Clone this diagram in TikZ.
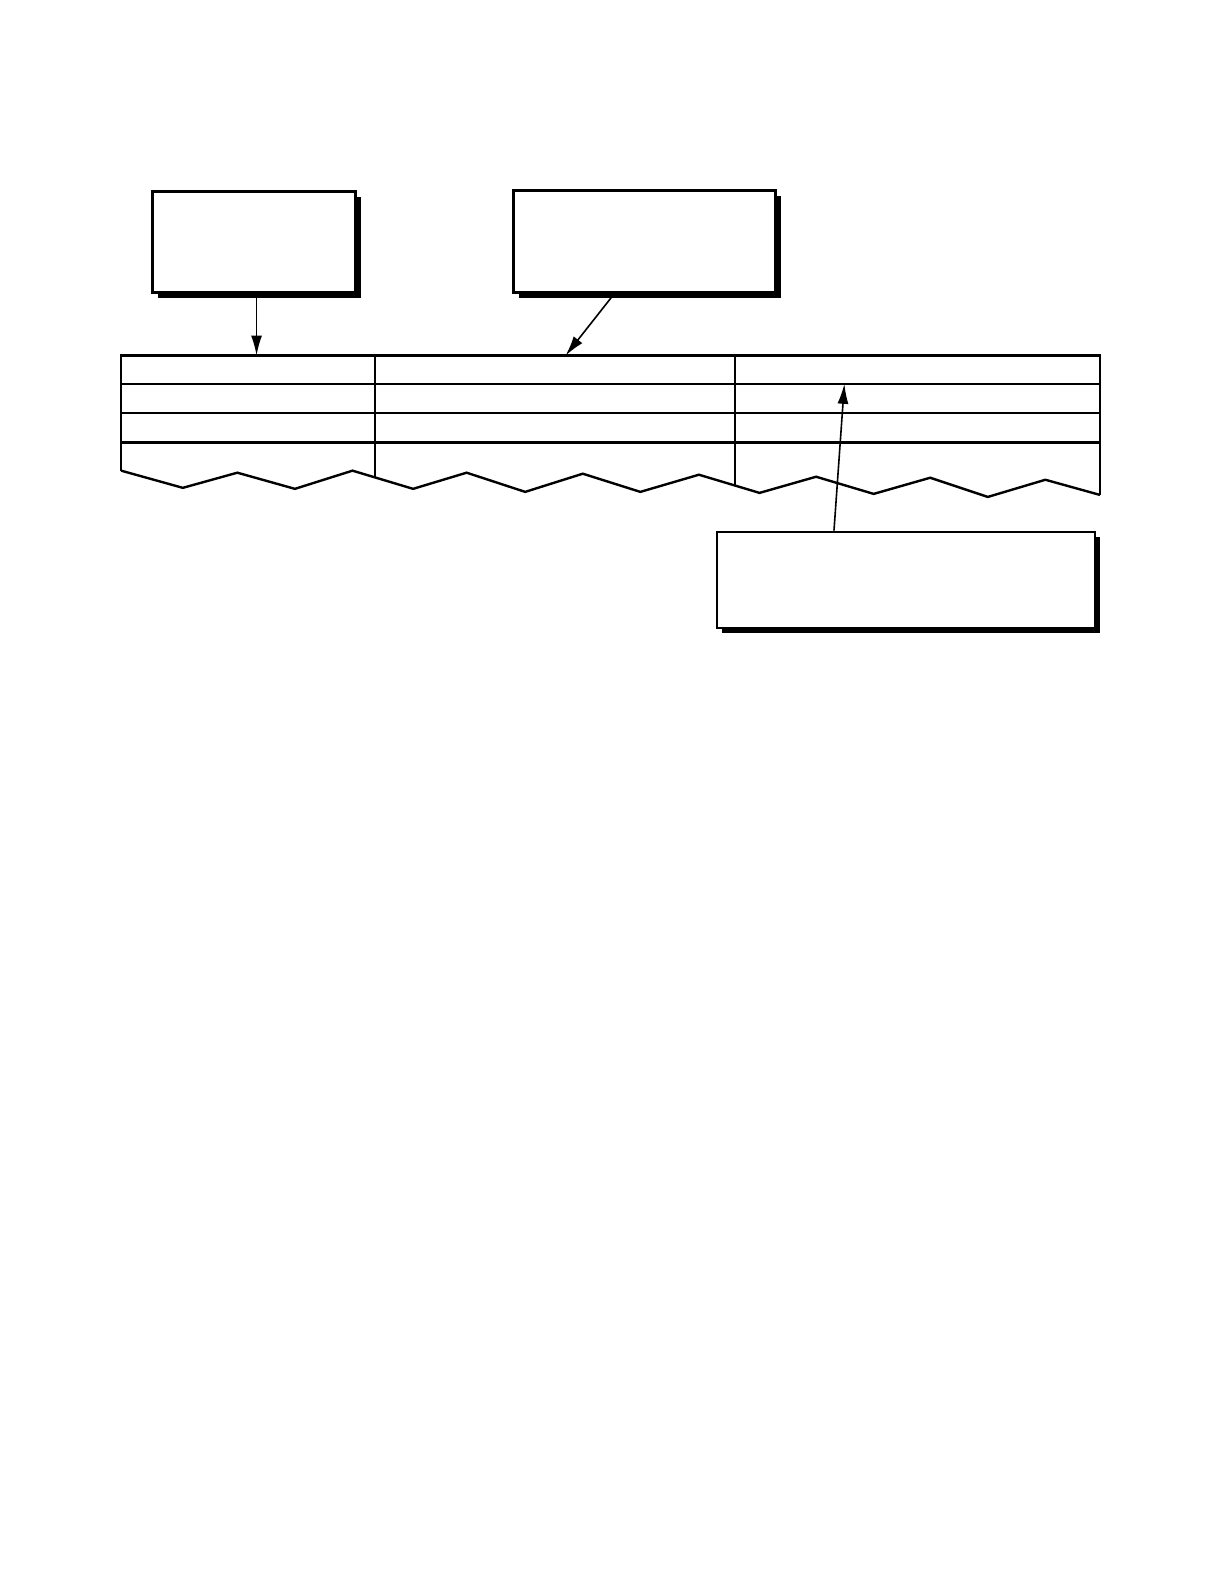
\documentclass[tikz,border=0pt]{standalone}
\usetikzlibrary{arrows.meta,shadows}

\begin{document}
\begin{tikzpicture}[x=0.505pt,y=-0.505pt,line width=1.2pt,
  callout/.style={draw,fill=white,inner sep=0pt,
    drop shadow={shadow xshift=2.6pt,shadow yshift=-2.6pt,fill=black,opacity=1}},
  pointer/.style={line width=0.8pt,-{Latex[length=10pt,width=5.5pt]}}]
\useasboundingbox (0,0) rectangle (1211.9,1568.3);
\node[callout,minimum width=101.5pt,minimum height=50.5pt] (name) at (251.5,239.5) {};
\node[callout,minimum width=131pt,minimum height=51pt] (header) at (638,239) {};
\node[callout,minimum width=189pt,minimum height=48pt] (entry) at (897,574) {};
\draw (120,466) -- (120,352) -- (1089,352) -- (1089,490);
\draw (120,380) -- (1089,380);
\draw (120,409) -- (1089,409);
\draw (120,438) -- (1089,438);
\draw (371,352) -- (371,472);
\draw (728,352) -- (728,480);
\draw (120,466) -- (181,483) -- (235,468) -- (292,484) -- (349,466) -- (409,484)
  -- (462,468) -- (520,487) -- (577,469) -- (634,487) -- (692,470) -- (752,488)
  -- (808,472) -- (865,489) -- (921,473) -- (978,492) -- (1035,475) -- (1089,490);
\coordinate (c1) at (254,352);
\coordinate (c2) at (560,352);
\coordinate (c3) at (836,380);
\draw[pointer] (c1 |- name.south) -- (c1);
\draw[pointer] ([xshift=-15pt]header.south) -- (c2);
\draw[pointer] ([xshift=-36pt]entry.north) -- (c3);
\end{tikzpicture}
\end{document}
